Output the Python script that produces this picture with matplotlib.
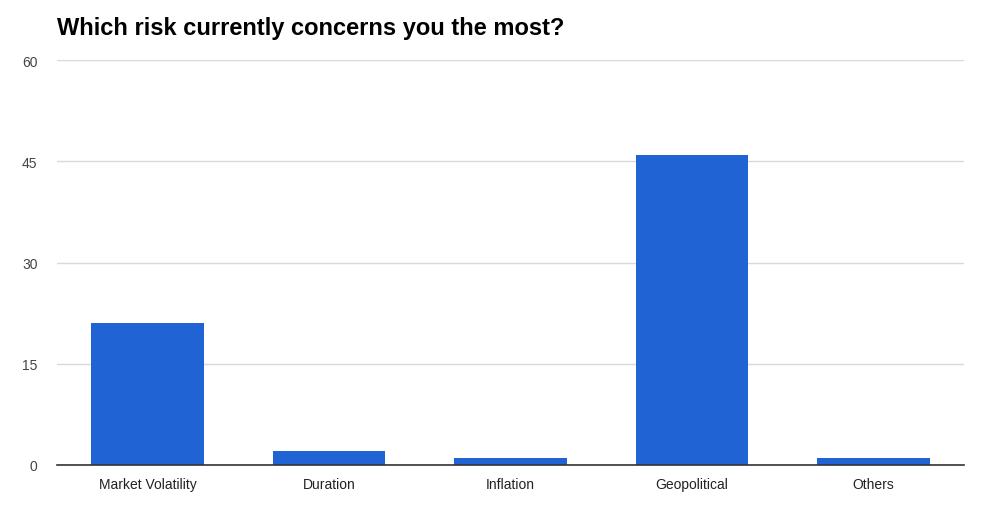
import matplotlib
matplotlib.use("Agg")
import matplotlib.pyplot as plt

# dados
categorias = ["Market Volatility", "Duration", "Inflation", "Geopolitical", "Others"]
valores = [21, 2, 1, 46, 1]
yticks = [0, 15, 30, 45, 60]

plt.rcParams["font.family"] = ["Liberation Sans", "DejaVu Sans"]

fig = plt.figure(figsize=(9.97, 5.10), dpi=100)
ax = fig.add_axes([0.0572, 0.0863, 0.9098, 0.7937])

x = range(len(categorias))
ax.bar(x, valores, width=0.62, color="#2063d5", zorder=3)

ax.set_xlim(-0.5, len(categorias) - 0.5)
ax.set_ylim(0, 60)
ax.set_yticks(yticks)
ax.set_xticks(list(x))
ax.set_xticklabels(categorias)

ax.grid(axis="y", color="#d9d9d9", linewidth=1, zorder=0)
for s in ["top", "right", "left"]:
    ax.spines[s].set_visible(False)
ax.spines["bottom"].set_color("#333333")
ax.spines["bottom"].set_linewidth(1.2)
ax.spines["bottom"].set_zorder(4)

ax.tick_params(axis="both", length=0, labelsize=10, labelcolor="#222222")
ax.tick_params(axis="y", pad=14, labelcolor="#444444")
ax.tick_params(axis="x", pad=9)

fig.text(0.0572, 0.945, "Which risk currently concerns you the most?",
         fontsize=17, fontweight="bold", va="center", ha="left", color="#000000")

fig.savefig("out.png", dpi=100)
